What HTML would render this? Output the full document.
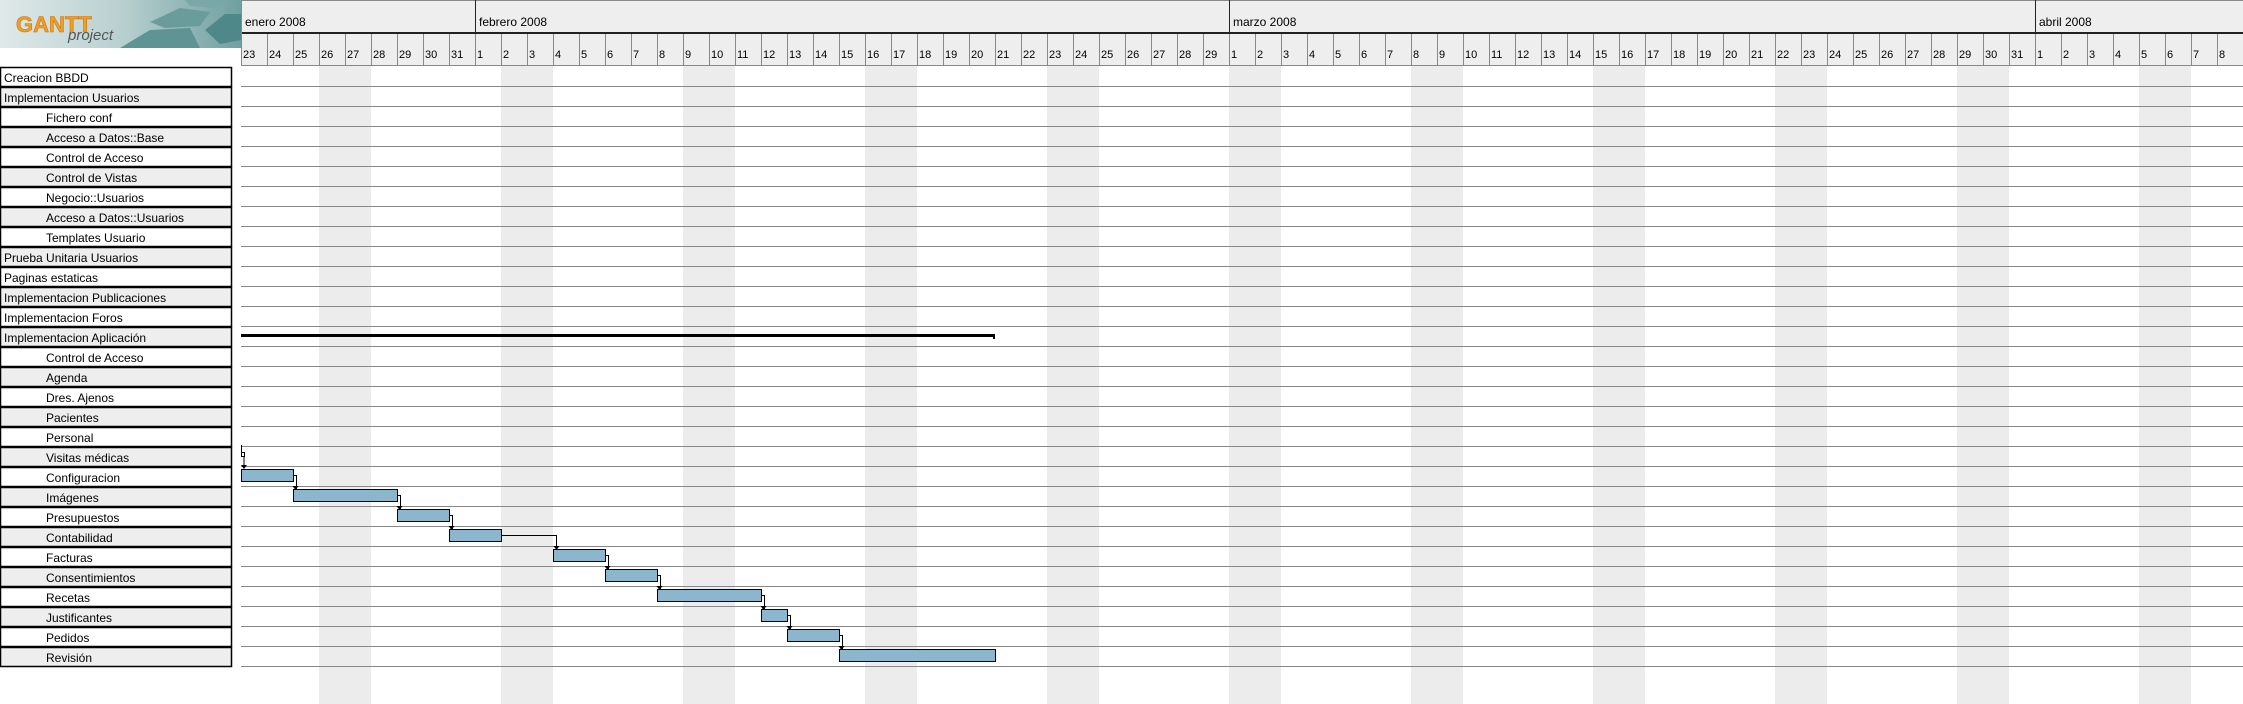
<!DOCTYPE html>
<html><head><meta charset="utf-8"><style>
html,body{margin:0;padding:0;background:#fff;width:2243px;height:704px;overflow:hidden}
svg{display:block}
text{font-family:"Liberation Sans",sans-serif}
</style></head><body>
<svg id="g" width="2243" height="704" xmlns="http://www.w3.org/2000/svg">
<defs>
<linearGradient id="lg" x1="0" x2="1" y1="0" y2="0"><stop offset="0" stop-color="#dfe9e9"/><stop offset="0.5" stop-color="#b9d0d0"/><stop offset="1" stop-color="#6fa0a0"/></linearGradient>
</defs>
<g>
<rect x="0" y="0" width="241" height="48" fill="url(#lg)"/>
<polygon points="120,48 150,30 190,28 200,48" fill="#5f9494"/>
<polygon points="150,22 180,8 210,12 200,26 165,28" fill="#6a9c9c"/>
<polygon points="205,30 225,14 241,14 241,40 220,44" fill="#4f8888"/>
<polygon points="185,0 225,0 215,8 190,6" fill="#7aa8a8"/>
<text x="16" y="32" font-size="22" font-weight="bold" fill="#f0a020" stroke="#d07010" stroke-width="0.6">GANTT</text>
<text x="68" y="40" font-size="15" font-style="italic" fill="#555" font-family="Liberation Serif,serif">project</text>
</g>
<g id="hdr"></g>
<g id="body"></g>
<g id="tbl"></g>
</svg>
<script>
const tasks=["Creacion BBDD","Implementacion Usuarios","Fichero conf","Acceso a Datos::Base","Control de Acceso","Control de Vistas","Negocio::Usuarios","Acceso a Datos::Usuarios","Templates Usuario","Prueba Unitaria Usuarios","Paginas estaticas","Implementacion Publicaciones","Implementacion Foros","Implementacion Aplicación","Control de Acceso","Agenda","Dres. Ajenos","Pacientes","Personal","Visitas médicas","Configuracion","Imágenes","Presupuestos","Contabilidad","Facturas","Consentimientos","Recetas","Justificantes","Pedidos","Revisión"];
const indent=[0,0,1,1,1,1,1,1,1,0,0,0,0,0,1,1,1,1,1,1,1,1,1,1,1,1,1,1,1,1];
// bars: task index, start day (from 23 Jan 2008), duration days
const barTask=[20,21,22,23,24,25,26,27,28,29];
const barStart=[0,2,6,8,12,14,16,20,21,23];
const barDur=[2,4,2,2,2,2,4,1,2,6];
const summaryTask=13, summaryStart=0, summaryDur=29;
const milestoneTask=19, milestoneStart=0;
const months=["enero 2008","febrero 2008","marzo 2008","abril 2008"];
const monthStartOffset=[-22,9,38,69];
const NS="http://www.w3.org/2000/svg";
const X0=241,DW=26,RH=20,Y0=66;
const xs=d=>X0+d*DW, ys=i=>Y0+i*RH;
function el(p,t,a){const e=document.createElementNS(NS,t);for(const k in a)e.setAttribute(k,a[k]);p.appendChild(e);return e;}
const hdr=document.getElementById('hdr'),body=document.getElementById('body'),tbl=document.getElementById('tbl');
// header
el(hdr,'rect',{x:X0,y:0,width:2243-X0,height:66,fill:'#eeeeee'});
el(hdr,'line',{x1:X0,y1:0.5,x2:2243,y2:0.5,stroke:'#888'});
el(hdr,'line',{x1:X0,y1:33,x2:2243,y2:33,stroke:'#222','stroke-width':2});
el(hdr,'line',{x1:X0,y1:65.5,x2:2243,y2:65.5,stroke:'#888'});
el(hdr,'line',{x1:X0+0.5,y1:0,x2:X0+0.5,y2:66,stroke:'#888'});
const base=new Date(2008,0,23);
for(let d=0;d<78;d++){
  const dt=new Date(2008,0,23+d);const wd=dt.getDay();
  if(wd===0||wd===6){const r=el(body,'rect',{x:xs(d),y:66,width:DW,height:704-66,fill:'#ececec'});
    }
  const l=el(hdr,'line',{x1:xs(d)+0.5,y1:34,x2:xs(d)+0.5,y2:66,stroke:'#888'});
  const t=el(hdr,'text',{x:xs(d)+2,y:58,'font-size':11,fill:'#000'});t.textContent=dt.getDate();
  
}
months.forEach((m,i)=>{
  const x=xs(monthStartOffset[i]);
  if(x>X0){el(hdr,'line',{x1:x+0.5,y1:0,x2:x+0.5,y2:33,stroke:'#222'});}
  const t=el(hdr,'text',{x:Math.max(x,X0)+4,y:26,'font-size':12,fill:'#000'});t.textContent=m;
  
});
// grid + table
tasks.forEach((n,i)=>{
  el(body,'line',{x1:X0,y1:ys(i+1)+0.5,x2:2243,y2:ys(i+1)+0.5,stroke:'#888'});
  const r=el(tbl,'rect',{x:0.5,y:ys(i)+1.5,width:231,height:19,fill:i%2?'#eeeeee':'#ffffff',stroke:'#000','stroke-width':1.5});
  
  const t=el(tbl,'text',{x:indent[i]?46:4,y:ys(i)+16,'font-size':12,fill:'#000'});t.textContent=n;
  
});
// summary
const s=el(body,'rect',{x:xs(summaryStart),y:ys(summaryTask)+8,width:summaryDur*DW,height:3,fill:'#000'});

el(body,'rect',{x:xs(summaryStart+summaryDur)-2,y:ys(summaryTask)+8,width:2,height:5,fill:'#000'});
// milestone marker
el(body,'line',{x1:xs(milestoneStart)+0.5,y1:ys(milestoneTask)-1,x2:xs(milestoneStart)+0.5,y2:ys(milestoneTask)+9,stroke:'#000'});
el(body,'rect',{x:xs(milestoneStart)+0.5,y:ys(milestoneTask)+6.5,width:3,height:4,fill:'#fff',stroke:'#000'});
function arrow(x,y){el(body,'polygon',{points:`${x-3},${y-4} ${x+3},${y-4} ${x},${y}`,fill:'#000'});}
arrow(xs(milestoneStart)+3,ys(barTask[0])+3);
el(body,'line',{x1:xs(milestoneStart)+3,y1:ys(milestoneTask)+10,x2:xs(milestoneStart)+3,y2:ys(barTask[0])+2,stroke:'#000'});
barTask.forEach((ti,k)=>{
  const x=xs(barStart[k]),w=barDur[k]*DW,y=ys(ti)+3;
  const b=el(body,'rect',{x:x+0.5,y:y+0.5,width:w,height:12,fill:'#8cb6ce',stroke:'#000'});
  
  if(k<barTask.length-1){
    const ex=x+w,nx=xs(barStart[k+1]),ny=ys(barTask[k+1])+3;
    if(nx>ex+4){
      el(body,'polyline',{points:`${ex},${y+6.5} ${nx+3.5},${y+6.5} ${nx+3.5},${ny}`,fill:'none',stroke:'#000'});
      arrow(nx+3.5,ny+1);
    }else{
      el(body,'polyline',{points:`${ex},${y+6.5} ${ex+3.5},${y+6.5} ${ex+3.5},${ny}`,fill:'none',stroke:'#000'});
      arrow(ex+2.5,ny+1);
    }
  }
});
</script>
</body></html>
